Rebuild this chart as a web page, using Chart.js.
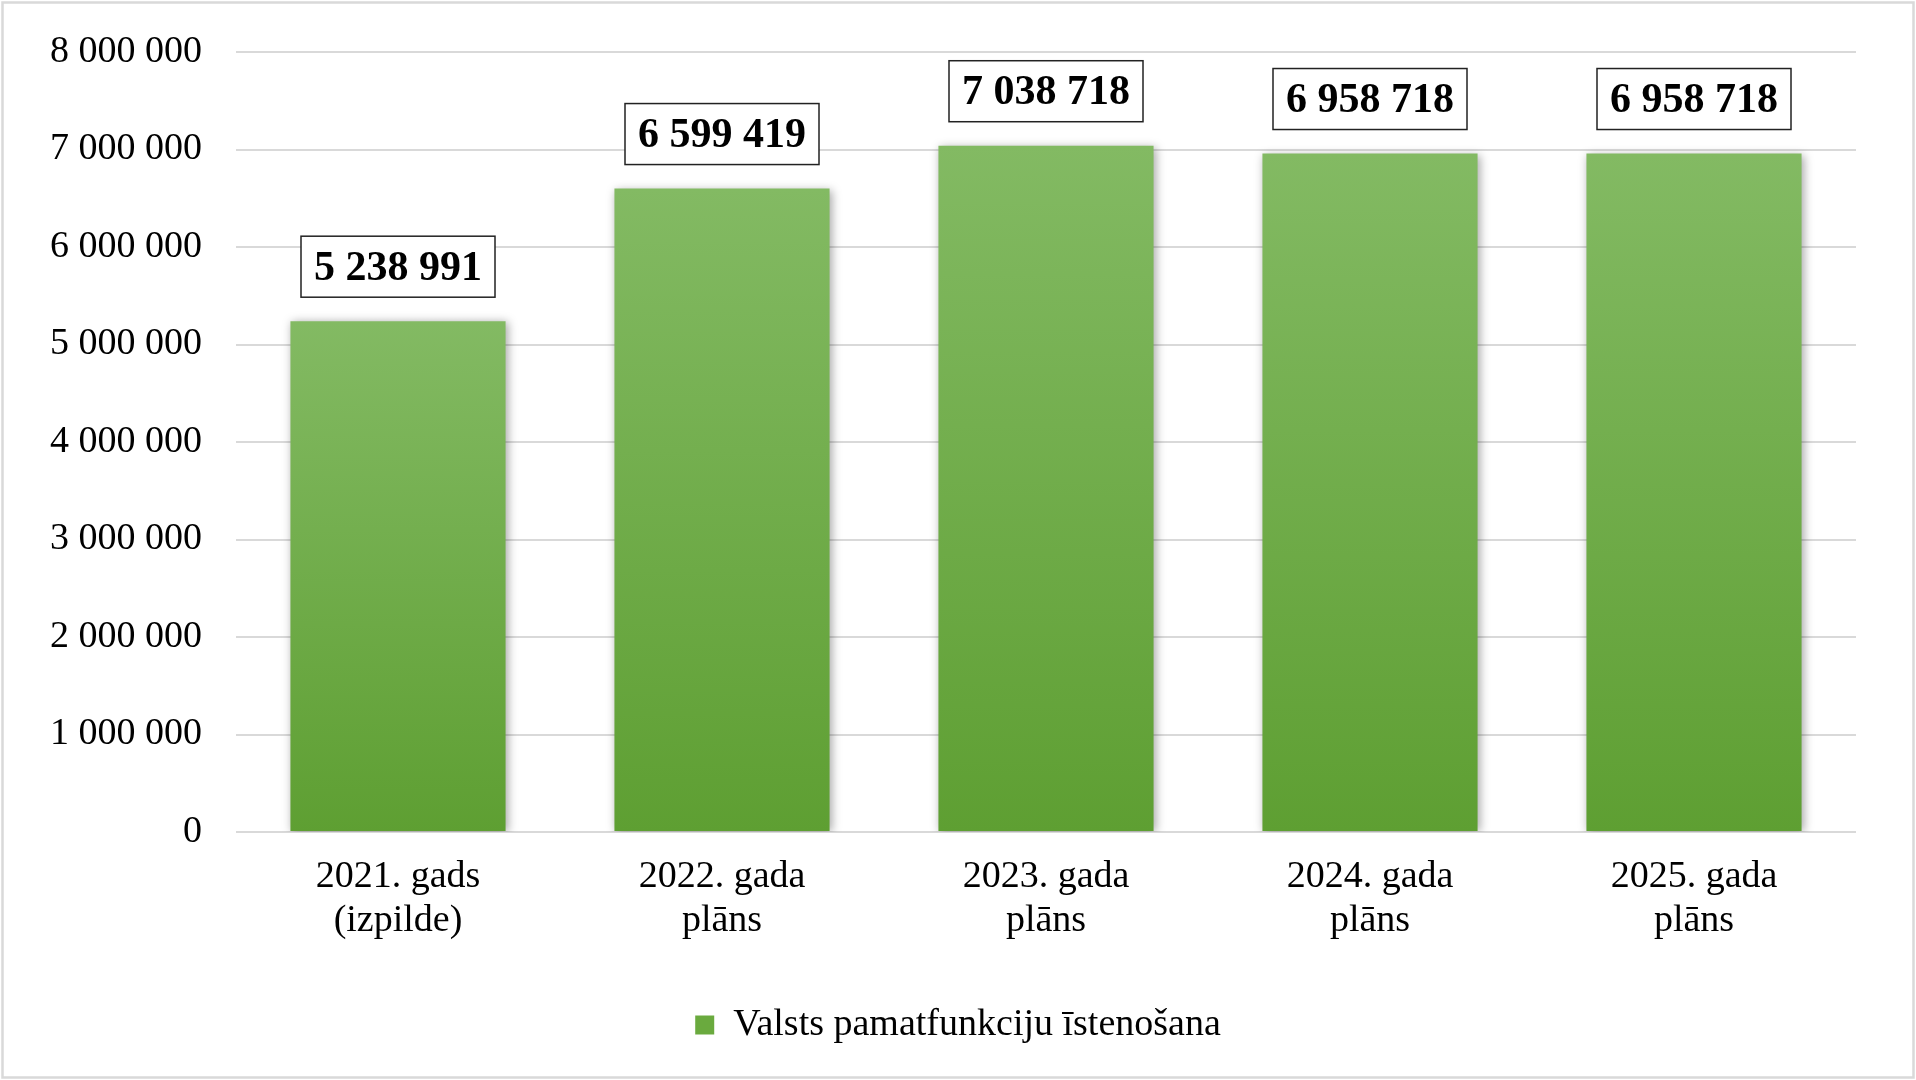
<!DOCTYPE html>
<html>
<head>
<meta charset="utf-8">
<script src="https://cdn.jsdelivr.net/npm/chart.js@4"></script>
<style>
  html, body { margin: 0; padding: 0; background: #ffffff; }
  #wrap { width: 1916px; height: 1080px; position: relative; }
  canvas { display: block; }
</style>
</head>
<body>
<div id="wrap"><canvas id="c" width="1916" height="1080"></canvas></div>
<script>
const categories = [
  ["2021. gads", "(izpilde)"],
  ["2022. gada", "plāns"],
  ["2023. gada", "plāns"],
  ["2024. gada", "plāns"],
  ["2025. gada", "plāns"]
];
const seriesName = "Valsts pamatfunkciju īstenošana";
const seriesValues = [5238991, 6599419, 7038718, 6958718, 6958718];
const yTickValues = [0, 1000000, 2000000, 3000000, 4000000, 5000000, 6000000, 7000000, 8000000];

const FONT = "'Liberation Serif', 'Times New Roman', serif";
const fmt = v => String(Math.round(v)).replace(/\B(?=(\d{3})+(?!\d))/g, ' ');

const decorPlugin = {
  id: 'decor',
  beforeDraw(chart) {
    const ctx = chart.ctx;
    ctx.save();
    ctx.fillStyle = '#ffffff';
    ctx.fillRect(0, 0, chart.width, chart.height);
    ctx.strokeStyle = '#d9d9d9';
    ctx.lineWidth = 2.5;
    ctx.strokeRect(2.5, 2.5, chart.width - 5, chart.height - 5);
    ctx.restore();
  },
  beforeDatasetsDraw(chart) {
    const ctx = chart.ctx;
    ctx.save();
    ctx.shadowColor = 'rgba(0,0,0,0.35)';
    ctx.shadowBlur = 9;
    ctx.shadowOffsetX = 2;
    ctx.shadowOffsetY = 1;
  },
  afterDatasetsDraw(chart) {
    const ctx = chart.ctx;
    ctx.restore();
    const meta = chart.getDatasetMeta(0);
    ctx.save();
    ctx.font = "bold 42px " + FONT;
    ctx.textAlign = 'center';
    ctx.textBaseline = 'middle';
    meta.data.forEach((bar, i) => {
      const txt = fmt(chart.data.datasets[0].data[i]);
      const w = ctx.measureText(txt).width + 26;
      const h = 61;
      const x = bar.x - w / 2;
      const yBottom = bar.y - 24;
      const y = yBottom - h;
      ctx.fillStyle = '#ffffff';
      ctx.fillRect(x, y, w, h);
      ctx.strokeStyle = '#222222';
      ctx.lineWidth = 1.5;
      ctx.strokeRect(x, y, w, h);
      ctx.fillStyle = '#000000';
      ctx.fillText(txt, bar.x, y + h / 2 + 2);
    });
    ctx.restore();
  }
};

new Chart(document.getElementById('c'), {
  type: 'bar',
  data: {
    labels: categories,
    datasets: [{
      label: seriesName,
      data: seriesValues,
      backgroundColor: (c) => {
        const chart = c.chart;
        const ys = chart.scales && chart.scales.y;
        if (!ys || c.type !== 'data' || ys.top === undefined) return '#6aaa3e';
        const top = ys.getPixelForValue(c.raw);
        const bot = ys.getPixelForValue(0);
        if (!isFinite(top) || !isFinite(bot) || top === bot) return '#6aaa3e';
        const g = chart.ctx.createLinearGradient(0, top, 0, bot);
        g.addColorStop(0, '#83ba63');
        g.addColorStop(1, '#5e9f32');
        return g;
      },
      borderWidth: 0,
      categoryPercentage: 0.664,
      barPercentage: 1.0
    }]
  },
  options: {
    responsive: false,
    animation: false,
    devicePixelRatio: 1,
    layout: { padding: { top: 52, right: 0, bottom: 26, left: 0 } },
    plugins: {
      legend: {
        position: 'bottom',
        labels: {
          font: { family: FONT, size: 38 },
          color: '#000000',
          boxWidth: 19,
          boxHeight: 19,
          padding: 10,
          generateLabels: (chart) => [{
            text: seriesName,
            fillStyle: '#6aaa3e',
            strokeStyle: '#6aaa3e',
            lineWidth: 0,
            datasetIndex: 0,
            fontColor: '#000000'
          }]
        }
      },
      tooltip: { enabled: false }
    },
    scales: {
      x: {
        grid: { display: false, drawTicks: false },
        border: { display: false },
        ticks: {
          font: { family: FONT, size: 38, lineHeight: 1.15 },
          color: '#000000',
          padding: 23,
          maxRotation: 0,
          autoSkip: false
        },
        afterFit: (s) => { s.height = 164; }
      },
      y: {
        min: 0,
        max: 8000000,
        afterBuildTicks: (s) => { s.ticks = yTickValues.map(v => ({ value: v })); },
        grid: { color: '#d9d9d9', lineWidth: 2, drawTicks: false },
        border: { display: false },
        ticks: {
          font: { family: FONT, size: 38 },
          color: '#000000',
          padding: 34,
          callback: (v) => fmt(v)
        },
        afterFit: (s) => { s.width = 236; s.paddingTop = 24; s.paddingBottom = 24; }
      },
      yR: {
        position: 'right',
        display: true,
        min: 0,
        max: 8000000,
        grid: { display: false, drawTicks: false },
        border: { display: false },
        ticks: { display: false },
        afterFit: (s) => { s.width = 60; s.paddingTop = 0; s.paddingBottom = 0; }
      }
    }
  },
  plugins: [decorPlugin]
});
</script>
</body>
</html>
